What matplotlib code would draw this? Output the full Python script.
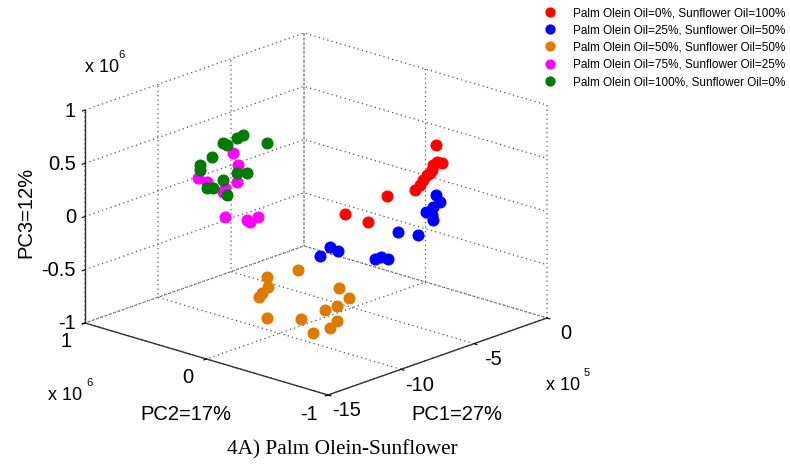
import numpy as np
import matplotlib
matplotlib.use('Agg')
import matplotlib.pyplot as plt
from matplotlib.lines import Line2D
from mpl_toolkits.mplot3d import proj3d

plt.rcParams['font.family'] = ['Liberation Sans', 'DejaVu Sans']
plt.rcParams['axes.unicode_minus'] = False

# ---------------- data (PC1 in units of 1e5, PC2/PC3 in units of 1e6) ----------------
series_labels = [
    'Palm Olein Oil=0%, Sunflower Oil=100%',
    'Palm Olein Oil=25%, Sunflower Oil=50%',
    'Palm Olein Oil=50%, Sunflower Oil=50%',
    'Palm Olein Oil=75%, Sunflower Oil=25%',
    'Palm Olein Oil=100%, Sunflower Oil=0%',
]
series_colors = ['#ff0000', '#0000ff', '#dd7a00', '#ff00ff', '#007a00']

red_pc1 = [-2.10, -2.25, -2.40, -1.95, -2.25, -2.55, -2.70, -2.85, -3.00, -3.30, -4.20, -3.90, -2.40]
red_pc2 = [-0.339, -0.365, -0.350, -0.370, -0.324, -0.319, -0.304, -0.297, -0.274, -0.080, 0.158, 0.004, -0.326]
red_pc3 = [0.502, 0.359, 0.333, 0.336, 0.270, 0.235, 0.190, 0.149, 0.101, -0.006, -0.212, -0.250, 0.249]

blue_pc1 = [-4.20, -4.05, -4.35, -4.50, -4.35, -4.20, -5.10, -4.65, -6.30, -6.15, -6.45, -5.55, -5.40, -5.25]
blue_pc2 = [-0.591, -0.606, -0.584, -0.545, -0.576, -0.566, -0.387, -0.497, 0.029, -0.019, 0.093, -0.251, -0.283, -0.322]
blue_pc3 = [0.219, 0.151, 0.111, 0.058, 0.034, -0.024, -0.154, -0.167, -0.377, -0.406, -0.477, -0.432, -0.410, -0.422]

orange_pc1 = [-10.20, -10.80, -10.80, -10.95, -11.10, -10.95, -10.35, -10.20, -9.90, -9.75, -10.05, -9.90, -9.60, -9.75]
orange_pc2 = [-0.176, 0.007, -0.001, 0.030, 0.037, -0.011, -0.219, -0.300, -0.404, -0.443, -0.380, -0.461, -0.524, -0.460]
orange_pc3 = [-0.336, -0.435, -0.526, -0.586, -0.618, -0.806, -0.775, -0.886, -0.818, -0.746, -0.650, -0.592, -0.510, -0.431]

magenta_pc1 = [-10.50, -10.35, -10.95, -10.80, -10.35, -10.50, -10.65, -10.20, -9.90, -9.90, -9.75]
magenta_pc2 = [0.323, 0.300, 0.557, 0.501, 0.308, 0.388, 0.387, 0.425, 0.280, 0.255, 0.207]
magenta_pc3 = [0.608, 0.496, 0.316, 0.290, 0.334, 0.257, 0.228, -0.041, -0.035, -0.046, 0.010]

green_pc1 = [-11.25, -11.25, -11.40, -11.40, -10.80, -11.55, -11.70, -11.70, -11.10, -10.95, -11.25, -11.40, -11.40, -11.10]
green_pc2 = [0.150, 0.200, 0.297, 0.264, 0.007, 0.369, 0.450, 0.450, 0.218, 0.153, 0.315, 0.428, 0.379, 0.300]
green_pc3 = [0.872, 0.827, 0.754, 0.747, 0.823, 0.606, 0.510, 0.463, 0.485, 0.499, 0.394, 0.287, 0.304, 0.251]

pc1_ticks = [-15, -10, -5, 0]
pc1_ticklabels = ['-15', '-10', '-5', '0']
pc2_ticks = [-1, 0, 1]
pc2_ticklabels = ['-1', '0', '1']
pc3_ticks = [-1, -0.5, 0, 0.5, 1]
pc3_ticklabels = ['-1', '-0.5', '0', '0.5', '1']

series = [
    (red_pc1, red_pc2, red_pc3),
    (blue_pc1, blue_pc2, blue_pc3),
    (orange_pc1, orange_pc2, orange_pc3),
    (magenta_pc1, magenta_pc2, magenta_pc3),
    (green_pc1, green_pc2, green_pc3),
]

# ---------------- figure ----------------
W, H = 790, 467
fig = plt.figure(figsize=(W / 100, H / 100), dpi=100)
base = [-0.3, -0.3, 1.6, 1.6]
ax = fig.add_axes(base, projection='3d', proj_type='ortho', computed_zorder=False)
ax.patch.set_alpha(0)
ax.view_init(elev=18.83, azim=-137.45)
box = (324, 330, 225)
ax.set_box_aspect(box)

for (x, y, z), c in zip(series, series_colors):
    ax.scatter(x, y, z, s=62, marker='o', c=c, edgecolors=c, linewidths=0.8,
               depthshade=False)

ax.set_xlim(-15, 0)
ax.set_ylim(-1, 1)
ax.set_zlim(-1, 1)
ax.set_xticks(pc1_ticks)
ax.set_yticks(pc2_ticks)
ax.set_zticks(pc3_ticks)
# tick labels are placed below as MATLAB-style texts
ax.set_xticklabels([''] * len(pc1_ticks))
ax.set_yticklabels([''] * len(pc2_ticks))
ax.set_zticklabels([''] * len(pc3_ticks))

for axis in (ax.xaxis, ax.yaxis, ax.zaxis):
    axis.set_pane_color((1, 1, 1, 0))
    axis._axinfo['grid'].update(color='#555555', linewidth=0.9, linestyle=(0, (1, 2.6)))
    axis.line.set_color('#333333')
    axis.line.set_linewidth(1.0)
    axis._axinfo['tick']['inward_factor'] = 0.15
    axis._axinfo['tick']['outward_factor'] = 0.0

# ---- align the projected box with the reference layout ----
def px(x, y, z):
    M = ax.get_proj()
    xs, ys, _ = proj3d.proj_transform(x, y, z, M)
    return ax.transData.transform((xs, ys))

fig.canvas.draw()
L = px(-15, 1, -1); R = px(0, -1, -1); F = px(-15, -1, -1); T = px(0, 1, 1)
s = 0.5 * (462 / (R[0] - L[0]) + 362 / (T[1] - F[1]))
ax.set_box_aspect(box, zoom=s)
fig.canvas.draw()
F = px(-15, -1, -1)
dx = (328 - F[0]) / W
dy = ((H - 395) - F[1]) / H
ax.set_position([base[0] + dx, base[1] + dy, base[2], base[3]])
fig.canvas.draw()

# ---------------- texts ----------------
def ftext(x, y, s, **kw):
    fig.text(x / W, 1 - y / H, s, **kw)

TICK_FS = 14.5

# tick labels, positioned from the projected tick locations (display px -> top-left px)
for t, lab in zip(pc3_ticks, pc3_ticklabels):
    X, Y = px(-15, 1, t)
    ftext(X - 9, H - Y + 1, lab, fontsize=TICK_FS, ha='right', va='center')
for t, lab in zip(pc2_ticks, pc2_ticklabels):
    X, Y = px(-15, t, -1)
    ftext(X - 19, H - Y + 19, lab, fontsize=TICK_FS, ha='center', va='center')
for t, lab in zip(pc1_ticks, pc1_ticklabels):
    X, Y = px(t, -1, -1)
    ftext(X + 19, H - Y + 16, lab, fontsize=TICK_FS, ha='center', va='center')

ftext(457, 415, 'PC1=27%', fontsize=TICK_FS, ha='center', va='center')
ftext(186, 415, 'PC2=17%', fontsize=TICK_FS, ha='center', va='center')
ftext(26, 212, 'PC3=12%', fontsize=TICK_FS, ha='center', va='center', rotation=90)

# exponent labels
ftext(85, 68, 'x 10', fontsize=13, ha='left', va='center')
ftext(118, 55, '6', fontsize=8, ha='left', va='center')
ftext(48, 396, 'x 10', fontsize=13, ha='left', va='center')
ftext(86, 383, '6', fontsize=8, ha='left', va='center')
ftext(546, 386, 'x 10', fontsize=13, ha='left', va='center')
ftext(584, 373, '5', fontsize=8, ha='left', va='center')

ftext(342, 450, '4A) Palm Olein-Sunflower', fontsize=15.3, ha='center', va='center',
      family=['Liberation Serif', 'DejaVu Serif'])

LEG_FS = 8.45
handles = [Line2D([], [], ls='', marker='o', markersize=6.4, color=c, markeredgecolor=c)
           for c in series_colors]
fig.legend(handles, series_labels, loc='upper left',
           bbox_to_anchor=(544.0 / W, 1 - 7.0 / H), frameon=False, fontsize=LEG_FS,
           borderpad=0, borderaxespad=0, handlelength=1.0, handletextpad=1.45,
           labelspacing=0.45)

fig.savefig('out.png', dpi=100)
